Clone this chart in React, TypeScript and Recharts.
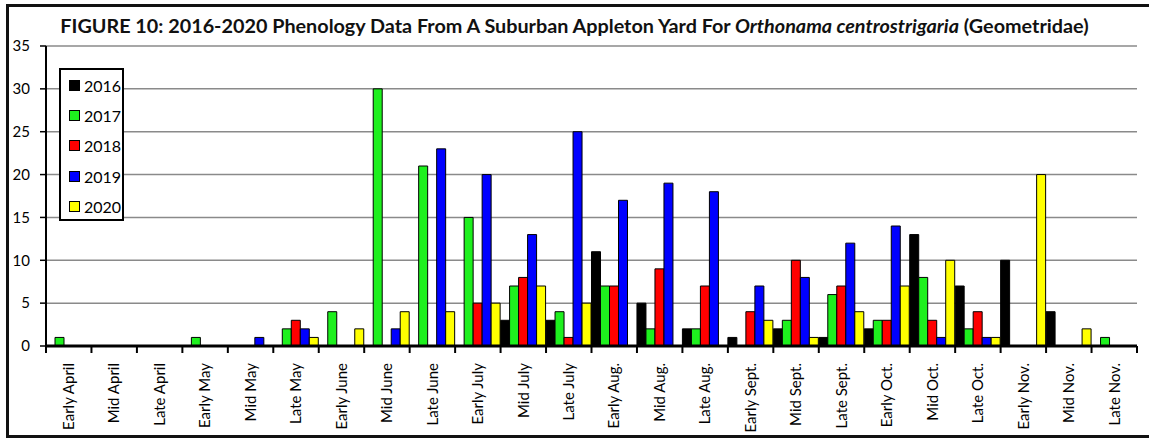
import { BarChart, Bar, XAxis, YAxis, CartesianGrid, Legend } from 'recharts';

const categories = [
  'Early April', 'Mid April', 'Late April', 'Early May', 'Mid May', 'Late May',
  'Early June', 'Mid June', 'Late June', 'Early July', 'Mid July', 'Late July',
  'Early Aug.', 'Mid Aug.', 'Late Aug.', 'Early Sept.', 'Mid Sept.', 'Late Sept.',
  'Early Oct.', 'Mid Oct.', 'Late Oct.', 'Early Nov.', 'Mid Nov.', 'Late Nov.',
];

const y2016 = [0, 0, 0, 0, 0, 0, 0, 0, 0, 0, 3, 3, 11, 5, 2, 1, 2, 1, 2, 13, 7, 10, 4, 0];
const y2017 = [1, 0, 0, 1, 0, 2, 4, 30, 21, 15, 7, 4, 7, 2, 2, 0, 3, 6, 3, 8, 2, 0, 0, 1];
const y2018 = [0, 0, 0, 0, 0, 3, 0, 0, 0, 5, 8, 1, 7, 9, 7, 4, 10, 7, 3, 3, 4, 0, 0, 0];
const y2019 = [0, 0, 0, 0, 1, 2, 0, 2, 23, 20, 13, 25, 17, 19, 18, 7, 8, 12, 14, 1, 1, 0, 0, 0];
const y2020 = [0, 0, 0, 0, 0, 1, 2, 4, 4, 5, 7, 5, 0, 0, 0, 3, 1, 4, 7, 10, 1, 20, 2, 0];

const yTicks = [0, 5, 10, 15, 20, 25, 30, 35];

const series = [
  { key: 'y2016', name: '2016', color: '#000000' },
  { key: 'y2017', name: '2017', color: '#1ef01e' },
  { key: 'y2018', name: '2018', color: '#ff0000' },
  { key: 'y2019', name: '2019', color: '#0000ff' },
  { key: 'y2020', name: '2020', color: '#ffff00' },
];

const data = categories.map((cat, i) => ({
  cat,
  y2016: y2016[i],
  y2017: y2017[i],
  y2018: y2018[i],
  y2019: y2019[i],
  y2020: y2020[i],
}));

const FONT = 'Lato, "Open Sans", sans-serif';

// label rotated, plus tick marks on the category boundaries
const XTick = (props: any) => {
  const { x, y, payload, index } = props;
  const half = payload && payload.offset ? payload.offset : 22.7;
  const last = index === categories.length - 1;
  return (
    <g>
      <line x1={x - half} y1={y} x2={x - half} y2={y + 7} stroke="#000" strokeWidth={2} />
      {last && <line x1={x + half} y1={y} x2={x + half} y2={y + 7} stroke="#000" strokeWidth={2} />}
      <text
        x={x}
        y={y + 17}
        dy="0.35em"
        textAnchor="end"
        transform={`rotate(-90, ${x}, ${y + 17})`}
        fontSize={15}
        fontFamily={FONT}
        fill="#000"
      >
        {payload.value}
      </text>
    </g>
  );
};

const LegendBox = () => (
  <div
    style={{
      border: '2px solid #000',
      background: '#fff',
      width: 65,
      height: 153,
      boxSizing: 'border-box',
      padding: '0 0 0 8px',
      fontFamily: FONT,
      fontSize: 16,
    }}
  >
    {series.map((s) => (
      <div key={s.key} style={{ display: 'flex', alignItems: 'center', height: 30.4 }}>
        <span
          style={{
            display: 'inline-block',
            width: 9,
            height: 9,
            background: s.color,
            border: '1px solid #000',
            marginRight: 4,
          }}
        />
        <span>{s.name}</span>
      </div>
    ))}
  </div>
);

export default function App() {
  return (
    <div style={{ position: 'relative', width: 1149, height: 441, background: '#fff', overflow: 'hidden' }}>
      <style>{'body{margin:0}'}</style>
      <div
        style={{
          position: 'absolute',
          left: 6,
          top: 4,
          width: 1160,
          height: 434,
          boxSizing: 'border-box',
          border: '3px solid #111',
        }}
      />
      <div
        style={{
          position: 'absolute',
          left: 0,
          width: 1149,
          top: 13,
          textAlign: 'center',
          fontFamily: FONT,
          fontWeight: 700,
          fontSize: 19.8,
          color: '#111',
        }}
      >
        FIGURE 10: 2016-2020 Phenology Data From A Suburban Appleton Yard For{' '}
        <i>Orthonama centrostrigaria</i> (Geometridae)
      </div>
      <BarChart
        width={1149}
        height={441}
        data={data}
        margin={{ top: 46, right: 12, bottom: 5, left: 0 }}
        barCategoryGap={0}
        barGap={0}
      >
        <CartesianGrid vertical={false} stroke="#8a8a8a" strokeWidth={1.5} />
        <XAxis
          xAxisId="top"
          orientation="top"
          dataKey="cat"
          height={0}
          tick={false}
          tickLine={false}
          axisLine={{ stroke: '#000', strokeWidth: 1.5 }}
        />
        <YAxis
          yAxisId="r"
          orientation="right"
          width={0}
          domain={[0, 35]}
          tick={false}
          tickLine={false}
          axisLine={{ stroke: '#000', strokeWidth: 2 }}
        />
        <XAxis
          dataKey="cat"
          interval={0}
          height={90}
          tickLine={false}
          tickSize={0}
          tickMargin={0}
          tick={<XTick />}
          axisLine={{ stroke: '#000', strokeWidth: 3 }}
        />
        <YAxis
          width={46}
          domain={[0, 35]}
          ticks={yTicks}
          interval={0}
          tickSize={6}
          tickMargin={10}
          tickLine={{ stroke: '#000', strokeWidth: 1.5 }}
          axisLine={{ stroke: '#000', strokeWidth: 2 }}
          tick={{ fill: '#000', fontSize: 15, fontFamily: FONT }}
        />
        <Legend
          layout="vertical"
          align="center"
          verticalAlign="middle"
          content={<LegendBox />}
          wrapperStyle={{ left: 59, top: 68, width: 65, height: 153, zIndex: 10 }}
        />
        {series.map((s) => (
          <Bar
            key={s.key}
            dataKey={s.key}
            name={s.name}
            fill={s.color}
            stroke="#000"
            strokeWidth={1}
            isAnimationActive={false}
          />
        ))}
      </BarChart>
    </div>
  );
}
